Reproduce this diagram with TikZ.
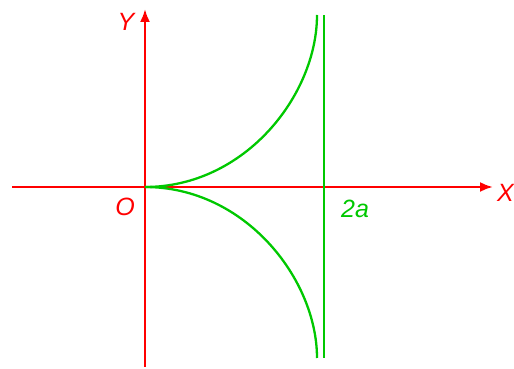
\documentclass[tikz,border=0pt]{standalone}
\usepackage{fontspec}
\setmainfont{Liberation Sans}
\usetikzlibrary{arrows.meta}
\definecolor{axred}{RGB}{255,0,0}
\definecolor{crvgreen}{RGB}{0,200,0}
\begin{document}
\begin{tikzpicture}[x=1pt,y=1pt,
  axis/.style={draw=axred,line width=2.3pt,-{Latex[length=13pt,width=10pt]}},
  crv/.style={draw=crvgreen,line width=2.3pt},
  axlabel/.style={text=axred,font=\fontsize{25}{28}\selectfont\itshape,inner sep=0pt},
  grlabel/.style={text=crvgreen,font=\fontsize{25}{28}\selectfont\itshape,inner sep=0pt}]
\useasboundingbox (0,0) rectangle (514,369);
\coordinate (O) at (145,182);
\coordinate (xl) at (12,182);
\coordinate (xr) at (493,182);
\coordinate (yb) at (145,2);
\coordinate (yt) at (145,360);
\coordinate (at) at (324,354);
\coordinate (ab) at (324,11);
\coordinate (ct) at (317,354);
\coordinate (cb) at (317,11);
\draw[axis] (xl) -- (xr);
\draw[axis] (yb) -- (yt);
\draw[crv] (ab) -- (at);
\draw[crv] (O) .. controls (245,182) and (317,274) .. (ct);
\draw[crv] (O) .. controls (245,182) and (317,90) .. (cb);
\node[axlabel] (Ylab) at (126,347) {Y};
\node[axlabel] (Olab) at (125,162) {O};
\node[axlabel,anchor=east] (Xlab) at (514,176) {X};
\node[grlabel] (alab) at (355,160) {2a};
\end{tikzpicture}
\end{document}
